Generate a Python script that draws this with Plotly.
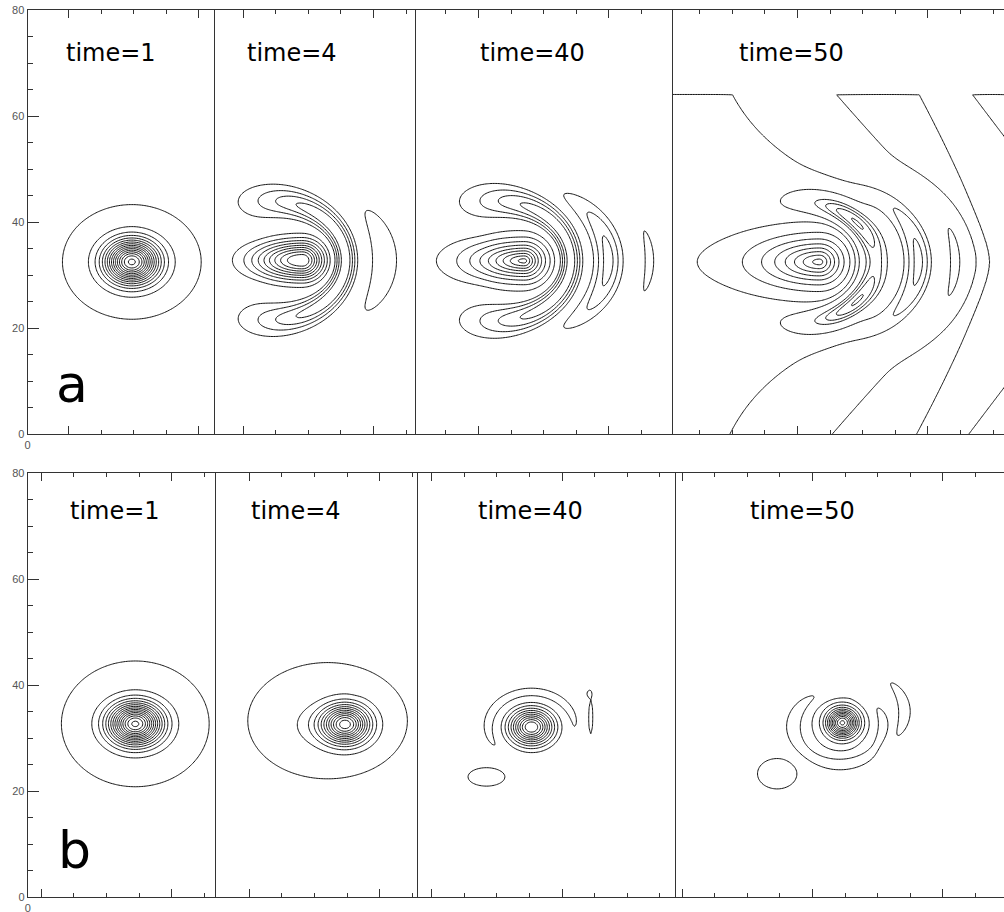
import numpy as np
import plotly.graph_objects as go

FIG_W, FIG_H = 1004, 912
PX_PER_X = 6.52          # pixels per x unit (figure is stretched horizontally)
TOP_WALL = 64.0          # model domain ends here (field is zero above)

ROW_TOP_PX = [10.0, 473.0]
ROW_BOTTOM_PX = [434.3, 897.3]
PANEL_EDGES_PX = [[27.5, 215.0, 416.0, 673.0, 1004.0],
                  [27.7, 216.0, 418.0, 675.5, 1004.0]]

TIME_LABELS = ["time=1", "time=4", "time=40", "time=50"]
TIME_LABEL_X_PX = [[111, 292, 532, 791], [115, 296, 530, 802]]
TIME_LABEL_Y_PX = [53, 511]
ROW_LETTERS = ["a", "b"]
ROW_LETTER_POS_PX = [(72, 384), (74, 850)]

Y_MAJOR = [0, 20, 40, 60, 80]
Y_MINOR = [5, 10, 15, 25, 30, 35, 45, 50, 55, 65, 70, 75]
X_FIRST_TICK = [[6.3, 4.3, 4.6, 4.1], [2.1, 5.1, 2.1, 1.0]]
X_FIRST_MAJOR = [[6.3, 4.3, 9.6, 19.1], [2.1, 5.1, 2.1, 1.0]]

# ---------------- field components ----------------
# blobs: (x, y, sigma_left, sigma_right, sigma_y, amplitude, power)
# arcs : (cx, cy, radius, width0, width_growth, centre_angle_deg, half_span_deg, power, amplitude)
A1_BLOBS = [(16.0, 32.5, 2.7, 2.7, 2.7, 15.0, 2), (16.0, 32.5, 11.8, 11.8, 12.0, 1.3, 6)]
A1_ARCS = []
A2_BLOBS = [(13.4, 32.8, 5.0, 2.2, 2.4, 10.0, 2)]
A2_ARCS = [(8.8, 32.8, 11.2, 1.1, 0.45, 0, 87, 4, -5.0),
           (8.8, 32.8, 17.2, 1.9, 0.0, 0, 34, 2, 1.6)]
A3_BLOBS = [(16.6, 32.7, 4.6, 1.8, 2.0, 9.5, 1.4)]
A3_ARCS = [(12.4, 32.7, 11.3, 1.1, 0.5, 0, 89, 4, -5.0),
           (14.7, 32.7, 14.8, 1.45, 0.0, 0, 37, 2, 3.4),
           (14.7, 32.7, 21.1, 0.8, 0.0, 0, 19, 2, -1.4)]
A4_BLOBS = [(22.5, 32.5, 4.5, 2.0, 2.3, 7.5, 1.4), (21.0, 32.5, 20.0, 6.0, 4.5, 0.6, 2)]
A4_ARCS = [(19.4, 32.5, 11.4, 1.3, 0.3, 43, 28, 2, -5.5),
           (19.4, 32.5, 11.4, 1.3, 0.3, -43, 28, 2, -5.5),
           (21.9, 32.5, 15.8, 1.5, 0.0, 0, 40, 2, 3.8),
           (21.9, 32.5, 21.4, 0.9, 0.0, 0, 23, 2, 2.6)]
# broad positive wedge of time=50: (amp, axis y, far x, reach, decay, cap x, softness)
A4_WEDGE = (1.4, 32.5, 4.4, 75.0, 11.85, 30.0, 1.2)
# long chevron wave of time=50: (trough x on axis, axis y, slope, right curvature,
#   bend, bend radius, amp on axis, extra amp at wall, window offset, window softness)
A4_WAVE = (47.3, 32.5, 0.105, 0.005, 0.545, 4.0, 1.01, 0.35, 3.0, 2.0)

B1_BLOBS = [(16.5, 32.7, 2.7, 2.7, 2.6, 15.0, 2), (16.5, 32.7, 12.6, 12.6, 13.2, 1.3, 6)]
B1_ARCS = []
B2_BLOBS = [(17.1, 33.3, 13.6, 13.6, 12.2, 1.3, 6), (19.9, 32.6, 2.4, 2.4, 2.4, 12.0, 2),
            (16.0, 32.5, 3.0, 2.5, 2.6, 1.2, 2), (22.8, 38.5, 0.93, 0.93, 0.25, -0.5, 2)]
B2_ARCS = []
B3_BLOBS = [(17.4, 32.1, 2.2, 2.2, 2.2, 11.0, 2), (26.5, 34.0, 0.42, 0.42, 4.3, -1.3, 2),
            (26.2, 38.4, 0.3, 0.3, 0.5, -1.05, 2), (10.5, 22.7, 3.9, 3.9, 2.4, 1.3, 2)]
B3_ARCS = [(17.4, 32.1, 6.5, 0.9, 0.0, 108, 117, 4, -1.6)]
B4_BLOBS = [(25.6, 32.9, 1.55, 1.55, 1.75, 11.0, 2), (25.3, 33.4, 4.8, 4.8, 5.9, 1.3, 4),
            (15.6, 23.3, 3.9, 3.9, 3.7, 1.35, 2)]
B4_ARCS = [(25.0, 32.0, 6.8, 1.0, 0.0, -108, 145, 4, -2.2),
           (27.0, 35.0, 8.1, 1.1, 0.0, 0, 51, 2, 1.4)]

PANELS = [[(A1_BLOBS, A1_ARCS, None, None), (A2_BLOBS, A2_ARCS, None, None),
           (A3_BLOBS, A3_ARCS, None, None), (A4_BLOBS, A4_ARCS, A4_WEDGE, A4_WAVE)],
          [(B1_BLOBS, B1_ARCS, None, None), (B2_BLOBS, B2_ARCS, None, None),
           (B3_BLOBS, B3_ARCS, None, None), (B4_BLOBS, B4_ARCS, None, None)]]
LEVEL_MAX = 20


def sigmoid(z):
    return 1.0 / (1.0 + np.exp(-z))


def build_field(xs, ys, blobs, arcs, wedge, wave):
    X, Y = np.meshgrid(xs, ys)
    Z = np.zeros_like(X)
    for cx, cy, sl, sr, sy, amp, p in blobs:
        dx = np.where(X < cx, (X - cx) / sl, (X - cx) / sr)
        dy = (Y - cy) / sy
        Z += amp * np.exp(-0.5 * (dx * dx + dy * dy) ** (p / 2.0))
    for cx, cy, R, w0, w2, th0, span, q, amp in arcs:
        dx, dy = X - cx, Y - cy
        D = np.hypot(dx, dy)
        th = np.angle(np.exp(1j * (np.arctan2(dy, dx) - np.radians(th0))))
        w = w0 + w2 * th ** 2
        Z += amp * np.exp(-0.5 * ((D - R) / w) ** 2 - 0.5 * np.abs(th / np.radians(span)) ** q)
    if wedge is not None:
        amp, y0, xfar, reach, lam, xcap, soft = wedge
        ady = np.abs(Y - y0)
        xe_raw = xfar + reach * np.exp(-ady / lam)
        k = 2.0
        xe = -k * np.logaddexp(-xe_raw / k, -xcap / k)
        Z += amp * sigmoid((xe - X) / soft)
        if wave is not None:
            xt, y0w, s, c, beta, a, b0, b1, woff, wsoft = wave
            ady = np.abs(Y - y0w)
            wall = TOP_WALL - y0w
            h = np.sqrt(ady ** 2 + a * a) - a
            d = X - xt + beta * h
            psi = s * d + c * np.maximum(d, 0) ** 2
            B = b0 + b1 * (ady / wall) ** 2
            W = sigmoid((X - xe - woff) / wsoft)
            Z += -B * W * np.cos(psi)
    Z[Y > TOP_WALL] = 0.0
    return Z


fig = go.Figure()
layout = dict(width=FIG_W, height=FIG_H, margin=dict(l=0, r=0, t=0, b=0, autoexpand=False),
              paper_bgcolor="white", plot_bgcolor="white", showlegend=False)
annotations = []
LINE_C = "#333333"
LABEL_FONT = dict(family="Liberation Sans", size=11, color="#555555")
ys = np.arange(0, 66.01, 0.25)

for r in range(2):
    for c in range(4):
        i = r * 4 + c + 1
        xn = "x" if i == 1 else f"x{i}"
        yn = "y" if i == 1 else f"y{i}"
        x0p, x1p = PANEL_EDGES_PX[r][c], PANEL_EDGES_PX[r][c + 1]
        xr = (x1p - x0p) / PX_PER_X
        xs = np.arange(0, xr + 0.25, 0.25)
        blobs, arcs, wedge, wave = PANELS[r][c]
        Z = np.round(build_field(xs, ys, blobs, arcs, wedge, wave), 3)
        for lo, hi in ((1, LEVEL_MAX), (-LEVEL_MAX, -1)):
            fig.add_trace(go.Contour(
                x=xs, y=ys, z=Z, xaxis=xn, yaxis=yn, autocontour=False,
                contours=dict(start=lo, end=hi, size=1, coloring="none"),
                line=dict(color="#151515", width=1.0, smoothing=1.0),
                showscale=False, hoverinfo="skip"))
        majors = list(np.arange(X_FIRST_MAJOR[r][c], xr, 20.0))
        ticks_all = np.arange(X_FIRST_TICK[r][c], xr - 0.3, 5.0)
        minors = [float(v) for v in ticks_all if min(abs(v - m) for m in majors) > 0.5]
        tv = ([0.0] if c == 0 else []) + [float(m) for m in majors]
        tt = (["0"] if c == 0 else []) + [""] * len(majors)
        layout["xaxis" if i == 1 else f"xaxis{i}"] = dict(
            domain=[x0p / FIG_W, x1p / FIG_W], range=[0, xr], anchor=yn, automargin=False,
            showline=True, linecolor=LINE_C, linewidth=1, mirror="ticks",
            ticks="inside", ticklen=8, tickwidth=1, tickcolor=LINE_C,
            tickmode="array", tickvals=tv, ticktext=tt, tickfont=LABEL_FONT,
            minor=dict(tickmode="array", tickvals=minors, ticks="inside", ticklen=4,
                       tickwidth=1, tickcolor=LINE_C, showgrid=False),
            showgrid=False, zeroline=False, fixedrange=True)
        ya = dict(domain=[1 - ROW_BOTTOM_PX[r] / FIG_H, 1 - ROW_TOP_PX[r] / FIG_H],
                  range=[0, 80], anchor=xn, automargin=False, showline=True,
                  linecolor=LINE_C, linewidth=1,
                  showgrid=False, zeroline=False, fixedrange=True)
        if c == 0:
            ya.update(ticks="inside", ticklen=11, tickwidth=1, tickcolor=LINE_C,
                      tickmode="array", tickvals=Y_MAJOR, ticktext=[str(v) for v in Y_MAJOR],
                      tickfont=LABEL_FONT,
                      minor=dict(tickmode="array", tickvals=Y_MINOR, ticks="inside",
                                 ticklen=5, tickwidth=1, tickcolor=LINE_C, showgrid=False))
        else:
            ya.update(ticks="", showticklabels=False)
        layout["yaxis" if i == 1 else f"yaxis{i}"] = ya
        annotations.append(dict(
            text=TIME_LABELS[c], xref="paper", yref="paper",
            x=TIME_LABEL_X_PX[r][c] / FIG_W, y=1 - TIME_LABEL_Y_PX[r] / FIG_H,
            xanchor="center", yanchor="middle", showarrow=False,
            font=dict(family="DejaVu Sans", size=24, color="black")))
    lx, ly = ROW_LETTER_POS_PX[r]
    annotations.append(dict(
        text=ROW_LETTERS[r], xref="paper", yref="paper", x=lx / FIG_W, y=1 - ly / FIG_H,
        xanchor="center", yanchor="middle", showarrow=False,
        font=dict(family="DejaVu Sans", size=52, color="black")))

layout["annotations"] = annotations
fig.update_layout(**layout)
fig.write_html("out.html", config={"displayModeBar": False, "staticPlot": True},
               post_script="document.body.style.margin='0px';")
